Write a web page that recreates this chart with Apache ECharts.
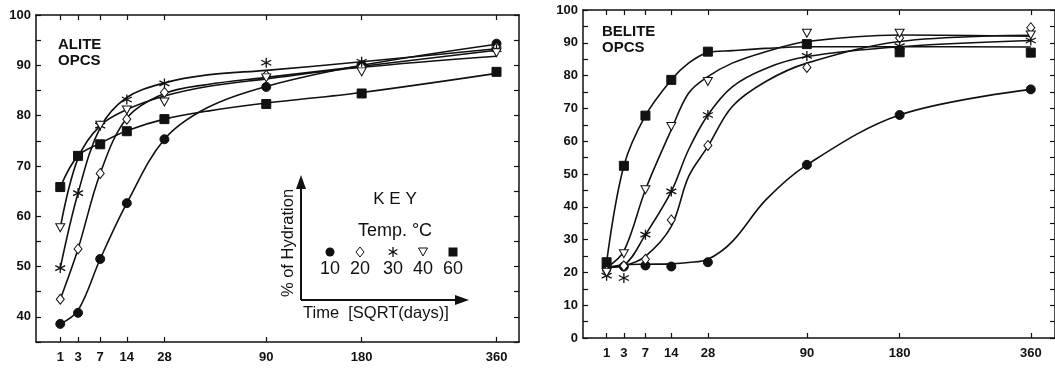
<!DOCTYPE html>
<html><head><meta charset="utf-8">
<script src="https://cdn.jsdelivr.net/npm/echarts@6/dist/echarts.min.js"></script>
<style>html,body{margin:0;padding:0;background:#fff}#c{width:1055px;height:369px}</style>
</head><body><div id="c"></div>
<script>
// ---- data ----
const tickDays = [1, 3, 7, 14, 28, 90, 180, 360];
const markerDays = [1, 3, 7, 14, 28, 90, 180, 360];
const temps = ['10', '20', '30', '40', '60'];

// ALITE measured points
const aliteM10 = [38.6, 40.8, 51.5, 62.6, 75.3, 85.7, 90.0, 94.3];
const aliteM20 = [43.5, 53.5, 68.5, 79.3, 84.6, 88.0, 89.7, 93.5];
const aliteM30 = [49.7, 64.6, 78.0, 83.2, 86.4, 90.5, 90.7, 93.2];
const aliteM40 = [57.7, 72.0, 78.1, 81.1, 82.7, 87.5, 88.7, 92.5];
const aliteM60 = [65.8, 72.0, 74.3, 76.9, 79.3, 82.3, 84.4, 88.7];
// ALITE fitted curves
const aliteCurveDays = [1, 3, 7, 14, 28, 50, 90, 180, 360];
const aliteC10 = [38.6, 41.3, 51.5, 62.6, 75.3, 81.6, 85.8, 90.0, 94.2];
const aliteC20 = [43.5, 53.5, 68.5, 79.5, 84.4, 86.2, 87.6, 89.8, 93.0];
const aliteC30 = [49.7, 64.6, 77.6, 83.6, 86.5, 88.1, 89.0, 90.7, 93.3];
const aliteC40 = [57.7, 71.5, 78.0, 81.2, 83.9, 85.8, 87.3, 89.6, 91.8];
const aliteC60 = [65.8, 72.0, 74.5, 77.0, 79.3, 80.9, 82.5, 84.6, 88.4];

// BELITE measured points
const beliteM10 = [21.5, 21.8, 22.1, 21.8, 23.1, 52.8, 68.0, 75.8];
const beliteM20 = [20.5, 22.0, 24.0, 36.0, 58.7, 82.5, 91.5, 94.6];
const beliteM30 = [19.0, 18.3, 31.5, 44.7, 68.0, 86.0, 89.0, 90.7];
const beliteM40 = [20.0, 25.7, 45.2, 64.5, 78.2, 92.9, 92.9, 92.4];
const beliteM60 = [23.1, 52.5, 67.8, 78.7, 87.3, 89.6, 87.1, 87.0];
// BELITE fitted curves
const beliteCurveDays = [1, 3, 7, 14, 20, 28, 40, 60, 90, 180, 360];
const beliteC10 = [21.5, 22.3, 22.5, 22.6, 23.0, 24.0, 29.4, 42.1, 52.8, 68.0, 75.8];
const beliteC20 = [21.5, 22.0, 24.9, 34.0, 49.2, 58.4, 70.6, 78.2, 83.8, 90.4, 92.3];
const beliteC30 = [21.5, 22.3, 31.5, 44.7, 57.4, 68.0, 76.6, 82.2, 85.8, 88.8, 90.7];
const beliteC40 = [21.5, 26.5, 45.2, 63.5, 74.6, 79.7, 83.8, 87.3, 90.4, 92.4, 92.0];
const beliteC60 = [23.1, 52.5, 67.8, 78.7, 83.8, 87.0, 87.6, 88.3, 88.8, 88.8, 88.7];

// ---- styling ----
const FONT = "'Liberation Sans', Arial, sans-serif";
const INK = '#111';
const asterisk = 'path://M5,0L5,10M0.67,2.5L9.33,7.5M0.67,7.5L9.33,2.5';
const symbols = ['circle', 'diamond', asterisk, 'triangle', 'rect'];
const symbolSizes = [9, [8, 10], 10, [9, 8], 9];
const symbolRot = [0, 0, 0, 180, 0];
const fills = [INK, '#fff', INK, '#fff', INK];

const sq = d => Math.sqrt(d);
const tickVals = tickDays.map(sq);

function xAxes(grid, max) {
  const base = {
    type: 'value', gridIndex: grid, min: 0, max: max,
    splitLine: { show: false },
    axisLine: { show: true, onZero: false, lineStyle: { color: INK, width: 1.5 } },
    axisTick: { show: true, inside: true, length: 5, customValues: tickVals, lineStyle: { color: INK, width: 1.2 } }
  };
  return [
    Object.assign({}, base, {
      position: 'bottom',
      axisLabel: { show: true, customValues: tickVals, formatter: v => String(Math.round(v * v)),
        color: INK, fontFamily: FONT, fontSize: 13, fontWeight: 'bold', margin: 9 }
    }),
    Object.assign({}, base, { position: 'top', axisLabel: { show: false } })
  ];
}
function yAxes(grid, min) {
  const base = {
    type: 'value', gridIndex: grid, min: min, max: 100, interval: 5,
    splitLine: { show: false },
    axisLine: { show: true, onZero: false, lineStyle: { color: INK, width: 1.5 } },
    axisTick: { show: true, inside: true, length: 5, lineStyle: { color: INK, width: 1.2 } }
  };
  return [
    Object.assign({}, base, {
      position: 'left',
      axisLabel: { show: true, formatter: v => (v % 10 === 0 ? String(v) : ''),
        color: INK, fontFamily: FONT, fontSize: 13, fontWeight: 'bold', margin: 5 }
    }),
    Object.assign({}, base, { position: 'right', axisLabel: { show: false } })
  ];
}

const series = [];
function addPanel(xi, yi, markers, curveDays, curves) {
  for (let k = 0; k < 5; k++) {
    series.push({
      type: 'line', name: temps[k], xAxisIndex: xi, yAxisIndex: yi,
      data: curveDays.map((d, i) => [sq(d), curves[k][i]]),
      smooth: 0.35, showSymbol: false, symbol: 'none',
      lineStyle: { color: INK, width: 1.6 }, z: 2, silent: true
    });
  }
  for (let k = 0; k < 5; k++) {
    series.push({
      type: 'scatter', name: temps[k], xAxisIndex: xi, yAxisIndex: yi,
      data: markerDays.map((d, i) => [sq(d), markers[k][i]]),
      symbol: symbols[k], symbolSize: symbolSizes[k], symbolRotate: symbolRot[k],
      itemStyle: { color: fills[k], borderColor: INK, borderWidth: k === 2 ? 1.3 : 1, opacity: 1 },
      z: 5, silent: true
    });
  }
}
addPanel(0, 0, [aliteM10, aliteM20, aliteM30, aliteM40, aliteM60], aliteCurveDays,
  [aliteC10, aliteC20, aliteC30, aliteC40, aliteC60]);
addPanel(2, 2, [beliteM10, beliteM20, beliteM30, beliteM40, beliteM60], beliteCurveDays,
  [beliteC10, beliteC20, beliteC30, beliteC40, beliteC60]);

// ---- key (legend drawing) ----
const keyX = [330, 360, 393, 423, 453];
const keyY = 252;
const key = [];
function arrowLine(x1, y1, x2, y2) {
  key.push({ type: 'line', shape: { x1, y1, x2, y2 }, style: { stroke: INK, lineWidth: 2 } });
}
arrowLine(301, 300, 301, 186);
key.push({ type: 'polygon', shape: { points: [[301, 175], [296, 189], [306, 189]] }, style: { fill: INK } });
arrowLine(301, 300, 458, 300);
key.push({ type: 'polygon', shape: { points: [[469, 300], [455, 295], [455, 305]] }, style: { fill: INK } });
key.push({ type: 'text', x: 288, y: 243, rotation: Math.PI / 2,
  style: { text: '% of Hydration', fill: INK, font: '16.5px ' + FONT, align: 'center', verticalAlign: 'middle' } });
key.push({ type: 'text', x: 303, y: 313,
  style: { text: 'Time  [SQRT(days)]', fill: INK, font: '16.5px ' + FONT, align: 'left', verticalAlign: 'middle' } });
key.push({ type: 'text', x: 395, y: 199,
  style: { text: 'K E Y', fill: INK, font: '17px ' + FONT, align: 'center', verticalAlign: 'middle' } });
key.push({ type: 'text', x: 395, y: 231,
  style: { text: 'Temp. °C', fill: INK, font: '18px ' + FONT, align: 'center', verticalAlign: 'middle' } });
temps.forEach((t, k) => {
  key.push({ type: 'text', x: keyX[k], y: 269,
    style: { text: t, fill: INK, font: '18px ' + FONT, align: 'center', verticalAlign: 'middle' } });
});
key.push({ type: 'circle', shape: { cx: keyX[0], cy: keyY, r: 4.5 }, style: { fill: INK } });
key.push({ type: 'polygon', shape: { points: [[keyX[1], keyY - 5], [keyX[1] + 4, keyY], [keyX[1], keyY + 5], [keyX[1] - 4, keyY]] },
  style: { fill: '#fff', stroke: INK, lineWidth: 1 } });
[[0, -5, 0, 5], [-4.3, -2.5, 4.3, 2.5], [-4.3, 2.5, 4.3, -2.5]].forEach(s => {
  key.push({ type: 'line', shape: { x1: keyX[2] + s[0], y1: keyY + s[1], x2: keyX[2] + s[2], y2: keyY + s[3] },
    style: { stroke: INK, lineWidth: 1.3 } });
});
key.push({ type: 'polygon', shape: { points: [[keyX[3] - 4.5, keyY - 4], [keyX[3] + 4.5, keyY - 4], [keyX[3], keyY + 4]] },
  style: { fill: '#fff', stroke: INK, lineWidth: 1 } });
key.push({ type: 'rect', shape: { x: keyX[4] - 4.5, y: keyY - 4.5, width: 9, height: 9 }, style: { fill: INK } });

// panel titles
key.push({ type: 'text', x: 58, y: 37,
  style: { text: 'ALITE\nOPCS', fill: INK, font: 'bold 15px ' + FONT, lineHeight: 16, align: 'left', verticalAlign: 'top' } });
key.push({ type: 'text', x: 602, y: 24,
  style: { text: 'BELITE\nOPCS', fill: INK, font: 'bold 15px ' + FONT, lineHeight: 16, align: 'left', verticalAlign: 'top' } });

const chart = echarts.init(document.getElementById('c'), null, { renderer: 'canvas' });
chart.setOption({
  backgroundColor: '#fff',
  animation: false,
  grid: [
    { left: 36, top: 15, width: 483, height: 327 },
    { left: 583, top: 10, width: 481, height: 328 }
  ],
  xAxis: [].concat(xAxes(0, 19.9), xAxes(1, 20)),
  yAxis: [].concat(yAxes(0, 35), yAxes(1, 0)),
  series: series,
  graphic: key
});
</script></body></html>
